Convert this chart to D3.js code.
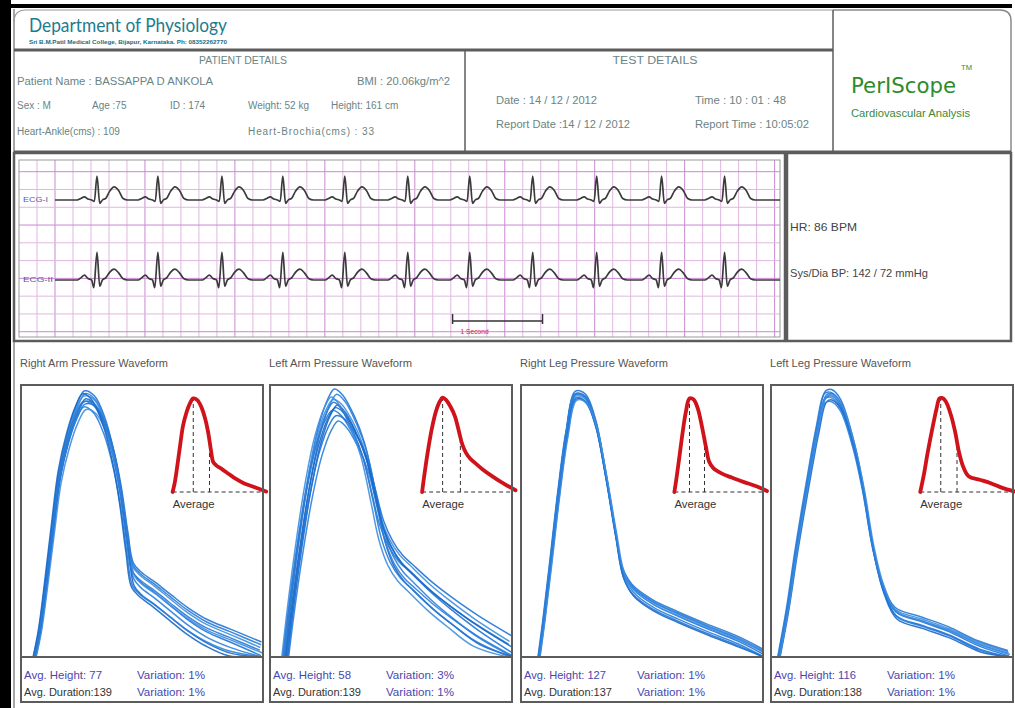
<!DOCTYPE html>
<html>
<head>
<meta charset="utf-8">
<script src="https://cdn.jsdelivr.net/npm/d3@7"></script>
<style>
  html, body { margin: 0; padding: 0; background: #fff; }
  svg { display: block; font-family: "Liberation Sans", Arial, sans-serif; }
</style>
</head>
<body>
<svg id="report" width="1015" height="708"></svg>
<script>
// ---------------- Report data ----------------
const patientName = "BASSAPPA D ANKOLA";
const patientSex = "M";
const patientAge = 75;
const patientId = 174;
const patientWeightKg = 52;
const patientHeightCm = 161;
const patientBmi = "20.06kg/m^2";
const heartAnkleCm = 109;
const heartBrachialCm = 33;
const testDate = "14 / 12 / 2012";
const testTime = "10 : 01 : 48";
const reportDate = "14 / 12 / 2012";
const reportTime = "10:05:02";
const heartRateBpm = 86;
const systolicBp = 142;
const diastolicBp = 72;

// ECG: R-peak times (s) and one beat template per lead (time from R in s, mV)
const ecgBeatTimes = [0.467, 1.144, 1.856, 2.533, 3.222, 3.922, 4.611, 5.311, 6.022, 6.744, 7.444];
const ecgRecordEnd = 8.06;
const ecgLeadIBeat = [[-0.22, 0], [-0.18, 0.06], [-0.14, 0.13], [-0.1, 0.04], [-0.06, 0], [-0.03, -0.06],
  [0, 1.0], [0.03, -0.14], [0.06, 0], [0.1, 0.08], [0.14, 0.36], [0.19, 0.55], [0.24, 0.4], [0.29, 0.06], [0.34, 0]];
const ecgLeadIIBeat = [[-0.22, 0], [-0.18, 0.09], [-0.14, 0.2], [-0.1, 0.06], [-0.06, 0], [-0.035, -0.32],
  [0, 1.15], [0.03, -0.26], [0.06, 0], [0.1, 0.1], [0.14, 0.32], [0.19, 0.45], [0.24, 0.3], [0.29, 0.05], [0.34, 0]];
const ecgLeadNames = ["ECG-I", "ECG-II"];

// Pressure waveforms: averaged pulse (sample, % of max) per limb
const waveformTitles = ["Right Arm Pressure Waveform", "Left Arm Pressure Waveform",
  "Right Leg Pressure Waveform", "Left Leg Pressure Waveform"];
const rightArmWave = [[9, 0], [12.5, 10], [16.8, 28.6], [21.2, 49.5], [25.6, 68.9], [31, 82.4], [36.5, 92],
  [42, 97.5], [48.5, 95.7], [55, 88.4], [61.6, 75], [66, 61.5], [70.4, 43.2], [74, 31], [79.1, 27.5],
  [87.9, 23.8], [98.8, 18.8], [109.7, 13.9], [122.8, 9.2], [138.2, 5.5], [158.7, 0.5]];
const leftArmWave = [[9.8, 0], [13.1, 16.5], [18.6, 40.8], [25.1, 65.2], [31.7, 83.5], [38.2, 94.5],
  [42.6, 98.2], [48, 96], [55.7, 88.3], [62.3, 78.8], [68.9, 62.6], [74.1, 49.5], [80, 40.7], [86.6, 34.8],
  [93.1, 31.1], [106.2, 23.8], [119.3, 17.6], [136.4, 10.3], [159.3, 1.8]];
const rightLegWave = [[11.8, 0], [15.1, 14], [19.7, 36], [24.9, 61.5], [30.2, 83.5], [36, 97.4], [42.6, 96.3],
  [49.2, 87.2], [55.7, 68.9], [62.3, 46.9], [67.5, 31.5], [74.1, 24.9], [87.2, 19.4], [103.6, 15],
  [123.3, 10.3], [143, 5.9], [160, 1.1]];
const leftLegWave = [[5.2, 0], [11, 18], [17, 40.7], [26.2, 71.4], [31, 86], [36, 97.4], [40, 98], [45.9, 94.5],
  [54.4, 79.9], [61, 62.6], [67.5, 40.7], [74.1, 26], [82.6, 16.5], [100.3, 12.8], [118, 9.2], [137.7, 4],
  [157.4, 0.4]];
// Dicrotic notch sample per limb
const notchTimes = [73, 78, 67, 72];
// Individual beats: [amplitude factor, tail offset (%), time shift (samples)]
const rightArmBeats = [[1.0, 0, 0], [0.99, -2, 0.5], [0.98, 3, -0.5], [0.97, -4, 0.8], [0.96, 2, -0.8],
  [0.95, 5, 0.3], [0.94, -3, -0.3], [0.93, 1, 1], [0.99, -5, -1], [0.96, 4, 0]];
const leftArmBeats = [[1.0, 0, 0], [0.98, -3, 1.5], [0.96, 4, -1], [0.94, -5, 2], [0.92, 3, -1.5],
  [0.9, 6, 1], [0.88, -2, 2.5], [0.97, -6, -2], [0.93, 2, 0.5], [0.95, -4, -0.5]];
const rightLegBeats = [[1.0, 0, 0], [0.99, -1, 0.4], [0.98, 1.5, -0.4], [0.97, -2, 0.6], [0.985, 2, -0.6],
  [0.975, -1.5, 0.2], [0.99, 1, -0.2], [0.965, 0.5, 0.8]];
const leftLegBeats = [[1.0, 0, 0], [0.985, -1.5, 0.5], [0.97, 1.5, -0.5], [0.96, -2, 0.8], [0.99, 2, -0.8],
  [0.975, -1, 0.3], [0.955, 1, -0.3], [0.98, 0.5, 0.6]];
// Sample positions of the dashed markers in the average inset
const insetMarkers = [[42, 68], [42.6, 71], [36, 60], [38, 64]];
// Summary values
const avgHeights = [77, 58, 127, 116];
const heightVariation = [1, 3, 1, 1];
const avgDurations = [139, 139, 137, 138];
const durationVariation = [1, 1, 1, 1];

// ---------------- Drawing ----------------
const svg = d3.select("#report");
const frame = "#5c5c5c";

function label(g, text, x, y, o = {}) {
  const t = g.append("text").attr("x", x).attr("y", y).text(text)
    .attr("font-size", o.size || 10)
    .attr("fill", o.fill || "#555")
    .attr("font-family", o.family || null)
    .attr("font-weight", o.weight || null)
    .attr("text-anchor", o.anchor || "start");
  if (o.width) t.attr("textLength", o.width).attr("lengthAdjust", o.adjust || "spacingAndGlyphs");
  return t;
}
function box(g, x, y, w, h, sw = 2, stroke = frame) {
  return g.append("rect").attr("x", x).attr("y", y).attr("width", w).attr("height", h)
    .attr("fill", "none").attr("stroke", stroke).attr("stroke-width", sw);
}

// Page edges
svg.append("rect").attr("x", 0).attr("y", 0).attr("width", 11).attr("height", 708).attr("fill", "#000");
svg.append("rect").attr("x", 0).attr("y", 4).attr("width", 1012).attr("height", 4).attr("fill", "#000");
svg.append("line").attr("x1", 14).attr("x2", 14).attr("y1", 9).attr("y2", 708)
  .attr("stroke", "#8a8a8a").attr("stroke-width", 1.5);

// ---- Header ----
const head = svg.append("g");
head.append("path").attr("d", "M14,22 Q14,10 26,10 L833,10")
  .attr("fill", "none").attr("stroke", "#9a9a9a").attr("stroke-width", 1.2);
head.append("path").attr("d", "M833,10 L1000,10 Q1011,10 1011,21 L1011,152")
  .attr("fill", "none").attr("stroke", "#8a8a8a").attr("stroke-width", 1.5);
head.append("line").attr("x1", 14).attr("x2", 833).attr("y1", 50).attr("y2", 50)
  .attr("stroke", frame).attr("stroke-width", 3);
head.append("line").attr("x1", 833).attr("x2", 833).attr("y1", 10).attr("y2", 152)
  .attr("stroke", frame).attr("stroke-width", 1.5);
head.append("line").attr("x1", 465).attr("x2", 465).attr("y1", 50).attr("y2", 152)
  .attr("stroke", frame).attr("stroke-width", 1.5);
head.append("line").attr("x1", 14).attr("x2", 1011).attr("y1", 152).attr("y2", 152)
  .attr("stroke", frame).attr("stroke-width", 3);

label(head, "Department of Physiology", 29, 32, { size: 20, fill: "#1d7c8f", width: 198, family: "Lato" });
label(head, "Sri B.M.Patil Medical College, Bijapur, Karnataka. Ph: 08352262770", 29, 44,
  { size: 6, fill: "#1d6a7c", width: 198, weight: "bold" });

const pc = "#6a8484";
label(head, "PATIENT DETAILS", 243, 64, { fill: pc, anchor: "middle", width: 88 });
label(head, "Patient Name : " + patientName, 17, 85, { fill: pc, width: 196 });
label(head, "BMI : " + patientBmi, 357, 85, { fill: pc, width: 93 });
label(head, "Sex : " + patientSex, 17, 109, { fill: pc });
label(head, "Age :" + patientAge, 92, 109, { fill: pc });
label(head, "ID : " + patientId, 170, 109, { fill: pc });
label(head, "Weight: " + patientWeightKg + " kg", 248, 109, { fill: pc });
label(head, "Height: " + patientHeightCm + " cm", 331, 109, { fill: pc });
label(head, "Heart-Ankle(cms) : " + heartAnkleCm, 17, 135, { fill: pc });
label(head, "Heart-Brochia(cms) :  " + heartBrachialCm, 248, 135, { fill: pc, width: 126, adjust: "spacing" });

label(head, "TEST DETAILS", 655, 64, { fill: pc, anchor: "middle", width: 85 });
label(head, "Date : " + testDate, 496, 104, { fill: pc, width: 101 });
label(head, "Report Date :" + reportDate, 496, 128, { fill: pc, width: 134 });
label(head, "Time : " + testTime, 695, 104, { fill: pc, width: 91 });
label(head, "Report Time : " + reportTime, 695, 128, { fill: pc, width: 114 });

label(head, "PerIScope", 851, 93, { size: 21, fill: "#2c8c2c", width: 105, family: "DejaVu Sans" });
label(head, "TM", 961, 70, { size: 8, fill: "#2c8c2c", width: 11 });
label(head, "Cardiovascular Analysis", 851, 117, { fill: "#3a8a3a", width: 119 });

// ---- ECG strip ----
const ecg = svg.append("g");
box(ecg, 14, 153, 771, 188, 2.5);
const gx0 = 19, gx1 = 780, gy0 = 160, gy1 = 337;
const tx = d3.scaleLinear().domain([0, ecgRecordEnd]).range([55, 780]);
const gridG = ecg.append("g");
d3.range(-0.2, ecgRecordEnd, 0.2).forEach(t => {
  const x = tx(t);
  if (x <= gx0 || x >= gx1) return;
  const major = Math.abs(t - Math.round(t)) < 1e-6;
  gridG.append("line").attr("x1", x).attr("x2", x).attr("y1", gy0).attr("y2", gy1)
    .attr("stroke", major ? "#c88ad0" : "#e0b8e0").attr("stroke-width", 1);
});
d3.range(0, 10).forEach(k => {
  const y = 171.7 + k * 17.78;
  gridG.append("line").attr("x1", gx0).attr("x2", gx1).attr("y1", y).attr("y2", y)
    .attr("stroke", k % 3 === 0 ? "#c88ad0" : "#e0b8e0").attr("stroke-width", 1);
});
box(ecg, gx0, gy0, gx1 - gx0, gy1 - gy0, 1, "#9a9a9a");

function ecgTrace(template) {
  const pts = [[0, 0]];
  ecgBeatTimes.forEach(r => template.forEach(([dt, mv]) => pts.push([r + dt, mv])));
  pts.push([ecgRecordEnd, 0]);
  return pts;
}
const leadScales = [
  d3.scaleLinear().domain([-1, 1]).range([224, 176]),
  d3.scaleLinear().domain([-1, 1]).range([304, 256])
];
[ecgLeadIBeat, ecgLeadIIBeat].forEach((tpl, i) => {
  const ys = leadScales[i];
  ecg.append("path").datum(ecgTrace(tpl))
    .attr("d", d3.line().x(d => tx(d[0])).y(d => ys(d[1])).curve(d3.curveMonotoneX))
    .attr("fill", "none").attr("stroke", "#3b3b3b").attr("stroke-width", 1.7)
    .attr("stroke-linejoin", "round");
  label(ecg, ecgLeadNames[i], 23, ys(0) + 2, { size: 8, fill: "#5a5aa8", width: i ? 30 : 25 });
});
// one-second calibration bar
const sbY = 321;
ecg.append("path")
  .attr("d", `M${tx(4.42)},${sbY - 7}V${sbY + 3}M${tx(4.42)},${sbY}H${tx(5.42)}M${tx(5.42)},${sbY - 7}V${sbY + 3}`)
  .attr("fill", "none").attr("stroke", "#333").attr("stroke-width", 1.5);
label(ecg, "1 Second", tx(4.42) + 8, 334, { size: 7, fill: "#d8204a", width: 28 });

// ---- Vitals ----
const vit = svg.append("g");
box(vit, 787, 153, 224, 188, 2.5);
label(vit, "HR: " + heartRateBpm + "  BPM", 790, 231, { size: 10.5, fill: "#444", width: 67 });
label(vit, "Sys/Dia BP: " + systolicBp + " / " + diastolicBp + " mmHg", 790, 277, { size: 10.5, fill: "#444", width: 138 });

// ---- Pressure waveform panels ----
const panelLefts = [21, 270, 521, 771];
const panelW = 242, plotTop = 385, plotBottom = 657, panelBottom = 702;
const waves = [rightArmWave, leftArmWave, rightLegWave, leftLegWave];
const beats = [rightArmBeats, leftArmBeats, rightLegBeats, leftLegBeats];
const titleWidths = [148, 143, 148, 141];
const blues = ["#1f74d6", "#2b80dc", "#3f8ee0", "#1a68c8", "#2a7ad4"];

function valueAt(wave, t) {
  for (let i = 1; i < wave.length; i++) {
    if (wave[i][0] >= t) {
      const [t0, v0] = wave[i - 1], [t1, v1] = wave[i];
      return v0 + (v1 - v0) * (t - t0) / (t1 - t0);
    }
  }
  return wave[wave.length - 1][1];
}

panelLefts.forEach((left, p) => {
  const g = svg.append("g");
  const wave = waves[p];
  label(g, waveformTitles[p], left - 1, 367, { size: 10.5, fill: "#555", width: titleWidths[p] });

  const x = d3.scaleLinear().domain([0, 160]).range([left, left + panelW]);
  const y = d3.scaleLinear().domain([0, 100]).range([plotBottom, plotTop - 1]);
  const clipId = "clip" + p;
  g.append("clipPath").attr("id", clipId).append("rect")
    .attr("x", left).attr("y", plotTop).attr("width", panelW).attr("height", plotBottom - plotTop);

  const tPeak = wave.reduce((a, b) => (b[1] > a[1] ? b : a))[0];
  const tNotch = notchTimes[p];
  const line = d3.line().x(d => x(d[0])).y(d => y(d[1])).curve(d3.curveCatmullRom);
  const traces = beats[p].map(([amp, tail, shift]) => wave.map(([t, v]) => {
    const w = Math.max(0, Math.min(1, (t - tPeak) / (tNotch - tPeak)));
    return [t + shift, Math.max(0, v * amp + tail * w)];
  }));
  g.append("g").attr("clip-path", `url(#${clipId})`).selectAll("path").data(traces).join("path")
    .attr("d", line).attr("fill", "none")
    .attr("stroke", (d, i) => blues[i % blues.length])
    .attr("stroke-width", 1.5).attr("stroke-opacity", 0.9);

  // averaged pulse inset
  const xi = d3.scaleLinear().domain([0, 160]).range([left + 146, left + 246]);
  const yi = d3.scaleLinear().domain([0, 100]).range([492, 396]);
  const t0 = wave[0][0];
  g.append("line").attr("x1", xi(t0)).attr("x2", left + panelW).attr("y1", yi(0)).attr("y2", yi(0))
    .attr("stroke", "#333").attr("stroke-width", 1).attr("stroke-dasharray", "4,3");
  insetMarkers[p].forEach(tm => {
    g.append("line").attr("x1", xi(tm)).attr("x2", xi(tm)).attr("y1", yi(0)).attr("y2", yi(valueAt(wave, tm)))
      .attr("stroke", "#333").attr("stroke-width", 1).attr("stroke-dasharray", "4,3");
  });
  g.append("path").datum(wave)
    .attr("d", d3.line().x(d => xi(d[0])).y(d => yi(d[1])).curve(d3.curveCatmullRom))
    .attr("fill", "none").attr("stroke", "#d0121a").attr("stroke-width", 3.8)
    .attr("stroke-linejoin", "round").attr("stroke-linecap", "round");
  label(g, "Average", xi(t0), 508, { size: 10.5, fill: "#333", width: 42 });

  // frames
  box(g, left, plotTop, panelW, panelBottom - plotTop, 2);
  g.append("line").attr("x1", left).attr("x2", left + panelW).attr("y1", plotBottom).attr("y2", plotBottom)
    .attr("stroke", frame).attr("stroke-width", 2);

  // summary
  const sc = "#4747ad";
  label(g, "Avg. Height: " + avgHeights[p], left + 3, 679, { size: 10.5, fill: sc, width: avgHeights[p] > 99 ? 82 : 78 });
  label(g, "Variation:  " + heightVariation[p] + "%", left + 116, 679, { size: 10.5, fill: sc, width: 68 });
  label(g, "Avg. Duration:" + avgDurations[p], left + 3, 696, { size: 10.5, fill: "#333", width: 88 });
  label(g, "Variation:   " + durationVariation[p] + "%", left + 116, 696, { size: 10.5, fill: sc, width: 68 });
});
</script>
</body>
</html>
